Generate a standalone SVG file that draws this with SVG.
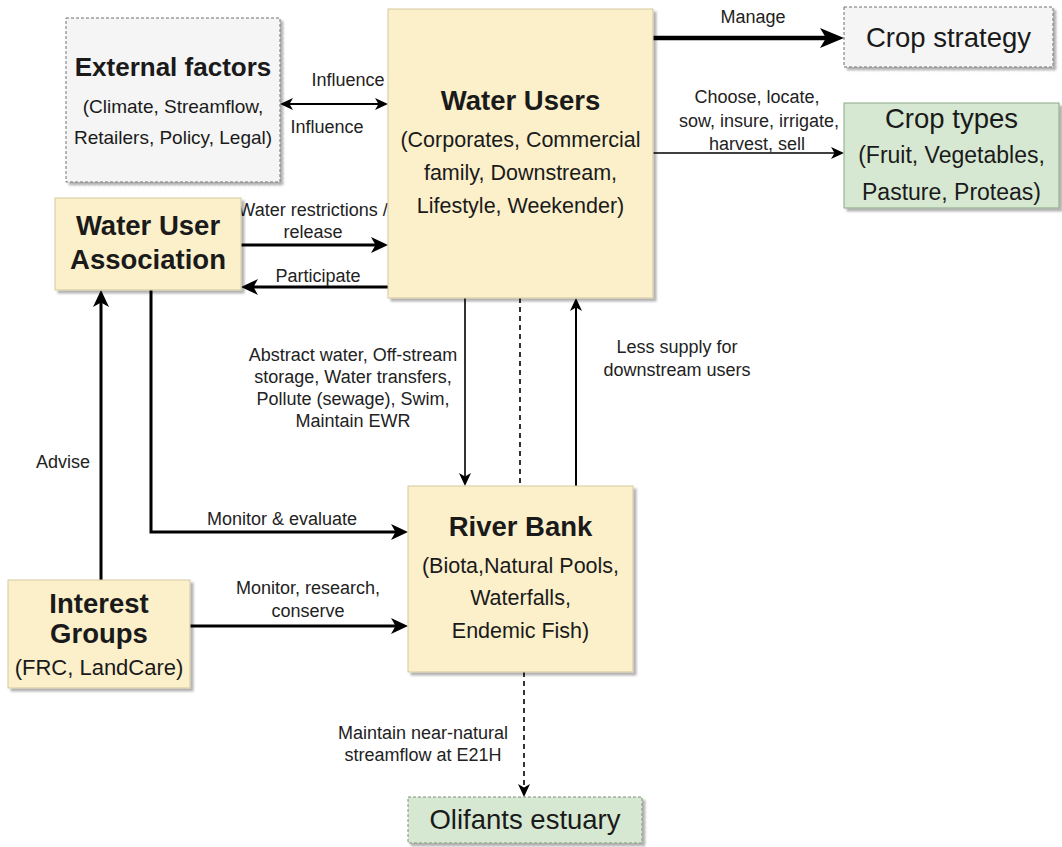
<svg xmlns="http://www.w3.org/2000/svg" width="1062" height="847" viewBox="0 0 1062 847">
  <style>
    text { font-family: "Liberation Sans", Arial, sans-serif; fill: #1a1a1a; text-anchor: middle; }
    .title { font-size: 27.5px; font-weight: bold; }
    .sub { font-size: 21.5px; }
    .big { font-size: 27.5px; }
    .lbl { font-size: 18px; fill: #222; }
    .yellow { fill: #fcf0cb; stroke: #d3c7a2; stroke-width: 1; }
    .grey { fill: #f5f5f5; stroke: #707070; stroke-width: 1; stroke-dasharray: 3 2; }
    .green { fill: #d6e8d2; stroke: #8aa883; stroke-width: 1; }
    .green-dash { fill: #d6e8d2; stroke: #7d8f79; stroke-width: 1; stroke-dasharray: 3 2; }
    .edge { fill: none; stroke: #000; }
    .thin { stroke-width: 1.6; }
    .mid { stroke-width: 2; }
    .thick { stroke-width: 3; }
    .heavy { stroke-width: 4.5; }
    .dash { stroke-dasharray: 5 4; }
  </style>
  <defs>
    <filter id="shadow" x="-10%" y="-10%" width="125%" height="125%">
      <feDropShadow dx="3" dy="3" stdDeviation="1.2" flood-color="#000" flood-opacity="0.3"/>
    </filter>
    <marker id="headXL" markerUnits="userSpaceOnUse" markerWidth="26" markerHeight="22" refX="12" refY="10" orient="auto">
      <path d="M0,0 L24,10 L0,20 L6,10 Z" fill="#000"/>
    </marker>
    <marker id="headL" markerUnits="userSpaceOnUse" markerWidth="19" markerHeight="18" refX="8.5" refY="8" orient="auto-start-reverse">
      <path d="M0,0 L17,8 L0,16 L4.5,8 Z" fill="#000"/>
    </marker>
    <marker id="headM" markerUnits="userSpaceOnUse" markerWidth="15" markerHeight="14" refX="6.5" refY="6" orient="auto-start-reverse">
      <path d="M0,0 L13,6 L0,12 L3.5,6 Z" fill="#000"/>
    </marker>
  </defs>

  <!-- connectors -->
  <g id="connectors">
    <line class="edge heavy" x1="653" y1="38" x2="832" y2="38" marker-end="url(#headXL)"/>
    <line class="edge thin" x1="653" y1="153" x2="837.5" y2="153" marker-end="url(#headM)"/>
    <line class="edge mid" x1="286.5" y1="104" x2="381.5" y2="104" marker-start="url(#headM)" marker-end="url(#headM)"/>
    <line class="edge thick" x1="241" y1="245" x2="379.5" y2="245" marker-end="url(#headL)"/>
    <line class="edge thick" x1="388" y1="287" x2="249.5" y2="287" marker-end="url(#headL)"/>
    <line class="edge thin" x1="465" y1="298" x2="465" y2="479.5" marker-end="url(#headM)"/>
    <line class="edge thin dash" x1="520" y1="298" x2="520" y2="486"/>
    <line class="edge mid" x1="576" y1="486" x2="576" y2="304.5" marker-end="url(#headM)"/>
    <line class="edge thin dash" x1="524" y1="672" x2="524" y2="790.5" marker-end="url(#headM)"/>
    <line class="edge thick" x1="101" y1="580" x2="101" y2="298.5" marker-end="url(#headL)"/>
    <path class="edge thick" d="M151,290 V532 H399.5" marker-end="url(#headL)"/>
    <line class="edge thick" x1="190" y1="626" x2="399.5" y2="626" marker-end="url(#headL)"/>

    <text class="lbl" x="753" y="23">Manage</text>
    <text class="lbl" x="757" y="103">Choose, locate,</text>
    <text class="lbl" x="759" y="127">sow, insure, irrigate,</text>
    <text class="lbl" x="757" y="150">harvest, sell</text>
    <text class="lbl" x="348" y="86">Influence</text>
    <text class="lbl" x="327" y="133">Influence</text>
    <text class="lbl" x="313" y="216">Water restrictions /</text>
    <text class="lbl" x="313" y="238">release</text>
    <text class="lbl" x="318" y="282">Participate</text>
    <text class="lbl" x="353" y="361">Abstract water, Off-stream</text>
    <text class="lbl" x="353" y="383">storage, Water transfers,</text>
    <text class="lbl" x="353" y="405">Pollute (sewage), Swim,</text>
    <text class="lbl" x="353" y="427">Maintain EWR</text>
    <text class="lbl" x="677" y="353">Less supply for</text>
    <text class="lbl" x="677" y="376">downstream users</text>
    <text class="lbl" x="63" y="468">Advise</text>
    <text class="lbl" x="282" y="525">Monitor &amp; evaluate</text>
    <text class="lbl" x="308" y="594">Monitor, research,</text>
    <text class="lbl" x="308" y="617">conserve</text>
    <text class="lbl" x="423" y="739">Maintain near-natural</text>
    <text class="lbl" x="423" y="761">streamflow at E21H</text>
  </g>

  <!-- nodes -->
  <g id="external-factors">
    <rect class="grey" x="66" y="18" width="214" height="164" filter="url(#shadow)"/>
    <text class="title" x="173" y="76" style="font-size:26px">External factors</text>
    <text x="173" y="113" style="font-size:19px">(Climate, Streamflow,</text>
    <text x="173" y="144" style="font-size:19px">Retailers, Policy, Legal)</text>
  </g>

  <g id="water-users">
    <rect class="yellow" x="388" y="9" width="265" height="289" filter="url(#shadow)"/>
    <text class="title" x="520.5" y="110">Water Users</text>
    <text class="sub" x="520.5" y="147">(Corporates, Commercial</text>
    <text class="sub" x="520.5" y="180">family, Downstream,</text>
    <text class="sub" x="520.5" y="213">Lifestyle, Weekender)</text>
  </g>

  <g id="crop-strategy">
    <rect class="grey" x="844" y="7" width="209" height="60" filter="url(#shadow)"/>
    <text class="big" x="948.5" y="47">Crop strategy</text>
  </g>

  <g id="crop-types">
    <rect class="green" x="844" y="103" width="215" height="105" filter="url(#shadow)"/>
    <text class="big" x="951.5" y="128">Crop types</text>
    <text x="951.5" y="163" style="font-size:23px">(Fruit, Vegetables,</text>
    <text x="951.5" y="200" style="font-size:23px">Pasture, Proteas)</text>
  </g>

  <g id="water-user-association">
    <rect class="yellow" x="55" y="198" width="186" height="92" filter="url(#shadow)"/>
    <text class="title" x="148" y="235">Water User</text>
    <text class="title" x="148" y="269">Association</text>
  </g>

  <g id="river-bank">
    <rect class="yellow" x="408" y="486" width="225" height="186" filter="url(#shadow)"/>
    <text class="title" x="520.5" y="536">River Bank</text>
    <text class="sub" x="520.5" y="573">(Biota,Natural Pools,</text>
    <text class="sub" x="520.5" y="605">Waterfalls,</text>
    <text class="sub" x="520.5" y="638">Endemic Fish)</text>
  </g>

  <g id="interest-groups">
    <rect class="yellow" x="8" y="580" width="182" height="108" filter="url(#shadow)"/>
    <text class="title" x="99" y="613">Interest</text>
    <text class="title" x="99" y="643">Groups</text>
    <text x="99" y="675" style="font-size:22px">(FRC, LandCare)</text>
  </g>

  <g id="olifants-estuary">
    <rect class="green-dash" x="408" y="797" width="234" height="46" filter="url(#shadow)"/>
    <text class="big" x="525" y="829">Olifants estuary</text>
  </g>
</svg>
